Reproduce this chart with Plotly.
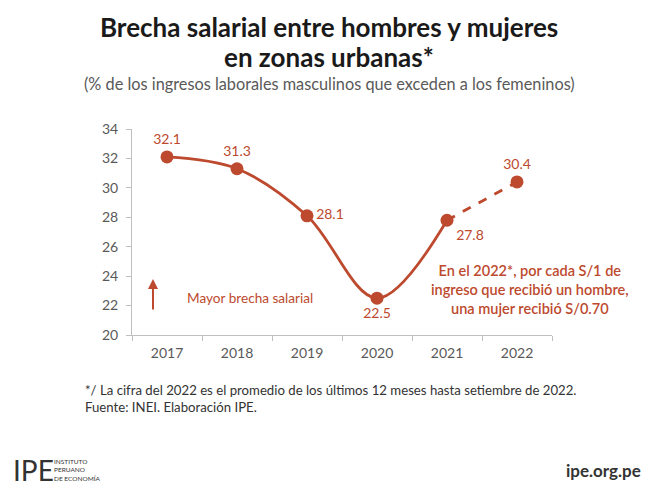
import plotly.graph_objects as go

years = ["2017", "2018", "2019", "2020", "2021", "2022"]
values = [32.1, 31.3, 28.1, 22.5, 27.8, 30.4]
label_pos = ["top center", "top center", "middle right", "bottom center", "bottom right", "top center"]
y_ticks = [20, 22, 24, 26, 28, 30, 32, 34]

RED = "#BD4A2E"
FONT = "Lato"
W, H = 658, 494
L, R, T, B = 132, 106, 129, 159
pw, ph = W - L - R, H - T - B


def px(x):
    return (x - L) / pw


def py(y):
    return (H - B - y) / ph


fig = go.Figure()
fig.add_trace(go.Scatter(
    x=years[:5], y=values[:5], mode="lines",
    line=dict(color=RED, width=2.8, shape="spline", smoothing=1.0),
    hoverinfo="skip", showlegend=False))
fig.add_trace(go.Scatter(
    x=years[4:], y=values[4:], mode="lines",
    line=dict(color=RED, width=2.8, dash="dash", shape="spline"),
    hoverinfo="skip", showlegend=False))
fig.add_trace(go.Scatter(
    x=years, y=values, mode="markers+text",
    marker=dict(color=RED, size=13),
    text=[f"{v:.1f}" for v in values], textposition=label_pos,
    textfont=dict(color=RED, size=14, family=FONT),
    showlegend=False))

fig.update_layout(
    width=W, height=H,
    margin=dict(l=L, r=R, t=T, b=B),
    paper_bgcolor="white", plot_bgcolor="white",
    font=dict(family=FONT, color="#595959"),
    xaxis=dict(type="category", range=[-0.5, 5.5], showgrid=False,
               showline=True, linecolor="#BFBFBF", linewidth=1,
               ticks="outside", tickson="boundaries", ticklen=5, tickcolor="#BFBFBF",
               ticklabelstandoff=5,
               tickfont=dict(size=14, color="#595959")),
    yaxis=dict(range=[20, 34], tickvals=y_ticks, showgrid=False, zeroline=False,
               showline=True, linecolor="#BFBFBF", linewidth=1,
               ticks="outside", ticklen=5, tickcolor="#BFBFBF",
               ticklabelstandoff=5,
               tickfont=dict(size=14, color="#595959")),
)


def pa(text, x, y, xanchor="center", yanchor="middle", size=14, color="#595959",
       align="center", weight="normal"):
    return dict(text=text, x=px(x), y=py(y), xref="paper", yref="paper",
                xanchor=xanchor, yanchor=yanchor, showarrow=False, align=align,
                font=dict(size=size, color=color, family=FONT, weight=weight))


annos = [
    pa("Brecha salarial entre hombres y mujeres", 329, 27, size=26, color="#1a1a1a", weight="bold"),
    pa("en zonas urbanas*", 329, 57, size=26, color="#1a1a1a", weight="bold"),
    pa("(% de los ingresos laborales masculinos que exceden a los femeninos)", 329, 83, size=16.3),
    pa("Mayor brecha salarial", 185, 298, xanchor="left", size=13.6, color=RED),
    pa("En el 2022*, por cada S/1 de<br>ingreso que recibió un hombre,<br>una mujer recibió S/0.70",
       530, 289, size=14.5, color=RED, weight=600),
    dict(x=px(153), y=py(279), ax=0, ay=32, xref="paper", yref="paper",
         axref="pixel", ayref="pixel",
         text="", showarrow=True, arrowhead=2, arrowsize=1, arrowwidth=2, arrowcolor=RED),
    pa("*/ La cifra del 2022 es el promedio de los últimos 12 meses hasta setiembre de 2022.<br>Fuente: INEI. Elaboración IPE.",
       83, 398, xanchor="left", size=13.2, color="#333333", align="left"),
    pa("IPE", 11, 470, xanchor="left", size=28, color="#333333"),
    pa("INSTITUTO<br>PERUANO<br>DE ECONOMÍA", 52, 470, xanchor="left", size=6.5,
       color="#333333", align="left"),
    pa("ipe.org.pe", 643, 470, xanchor="right", size=17, color="#333333", weight="bold"),
]
fig.update_layout(annotations=annos)

fig.write_html("out.html", config={"displayModeBar": False},
               post_script="document.body.style.margin='0';")
